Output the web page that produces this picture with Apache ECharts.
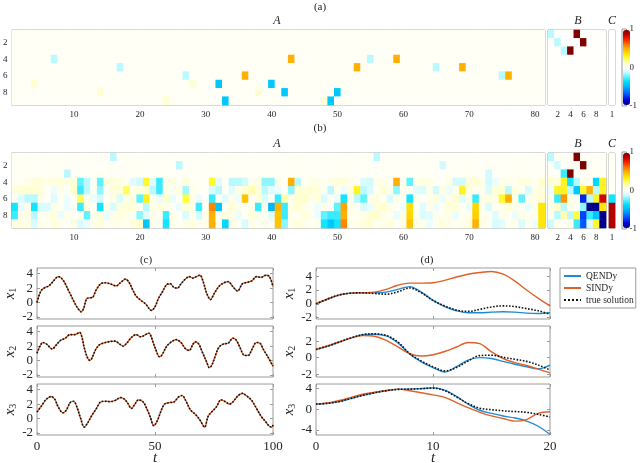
<!DOCTYPE html>
<html>
<head>
<meta charset="utf-8">
<script src="https://cdn.jsdelivr.net/npm/echarts@6/dist/echarts.min.js"></script>
<style>
html, body { margin: 0; padding: 0; background: #fff; }
#chart { width: 640px; height: 463px; }
</style>
</head>
<body>
<div id="chart"></div>
<script>
// ---------- panel (a): nearly sparse coefficients ----------
// cells as [column, row, value]; all other cells are faint
const aFaint = 0.02;
const aCellsA = [
  [7, 4, -0.15], [17, 5, -0.15], [27, 6, -0.15], [55, 4, -0.15], [65, 5, -0.15], [75, 6, -0.15],
  [4, 7, 0.1], [14, 8, 0.1], [24, 9, 0.1], [28, 7, 0.1], [38, 8, 0.1], [48, 9, 0.1],
  [32, 7, -0.45], [33, 9, -0.45], [40, 7, -0.45], [42, 8, -0.45], [50, 8, -0.45], [49, 9, -0.45],
  [43, 4, 0.5], [53, 5, 0.5], [59, 4, 0.5], [69, 5, 0.5], [36, 6, 0.5], [76, 6, 0.5]
];
const aCellsB = [[1, 1, -0.15], [2, 2, -0.15], [3, 3, -0.15], [5, 1, 1], [6, 2, 1], [4, 3, 1]];
const aCellsC = [];

// ---------- panel (b): dense coefficients, one array per row ----------
const bA1 = [.02,.03,.02,.02,.03,.02,.02,.03,.02,.02, .02,.03,.02,.02,.02,-.15,.02,.03,.02,.02, .02,.02,.03,.02,.02,.02,.02,.02,.02,.02, .02,.02,.02,.03,.02,.02,.02,.03,.02,.02, .02,.02,.03,.02,.02,.02,.02,.02,.03,.02, .02,.02,.02,.02,.02,-.15,.02,.02,.02,.02, .02,.02,.03,.02,.02,.02,.02,.02,.03,.02, .02,.02,.02,.02,.02,.02,.03,.02,.02,.02, .02];
const bA2 = [.02,.02,.03,.02,.02,.02,.03,.02,.02,.02, .03,.02,.02,.02,.03,.02,.02,.02,.02,.03, .02,.02,.02,.02,.02,-.15,.02,.02,.03,.02, .02,.03,.02,.02,.02,.02,.02,.02,.02,.03, .02,.02,.02,.03,.02,.02,.02,.03,.02,.02, .02,.03,.02,.02,.02,.02,.03,.02,.02,.02, .02,.02,.02,.02,.02,-.12,.02,.02,.02,.03, .02,.02,.03,.02,.02,.02,.02,.03,.02,.02, .02];
const bA3 = [.02,.03,.02,.02,.02,.03,.02,.02,-.15,.02, .02,.02,.02,.03,.02,.02,.02,.02,.03,.02, .02,.03,.02,.02,.02,.02,.03,.02,.02,.02, .03,.02,.02,.02,.02,.03,.02,.02,.02,.02, .02,.02,.02,.02,.03,.02,.02,.02,.02,.02, .03,.02,.02,.02,.02,.02,.02,.03,.02,.02, .02,.02,.03,.02,.02,.02,.02,.02,.02,.03, .02,.02,-.12,.02,.02,.03,.02,.02,.02,.02, .03];
const bA4 = [.02,.03,.05,.08,.08,.06,.08,.08,.06,.08, -.25,-.15,.02,-.25,.08,.08,.06,.02,-.08,-.12, .28,-.08,-.3,.05,.08,.02,.08,.03,.02,.02, .28,-.08,.02,-.15,-.15,-.12,.05,.05,-.2,-.2, .05,.03,.5,-.15,.02,.06,.05,.03,.06,.08, .08,.05,.02,-.1,-.12,.05,.05,.02,.5,.03, -.25,.05,.08,.05,.02,.02,.06,-.12,-.12,.08, .1,.05,-.12,-.05,.05,.05,.03,.08,.06,.03, .1];
const bA5 = [.08,.1,.1,.1,.08,.02,-.05,.06,.02,.12, -.3,-.15,.03,-.2,.03,.08,.1,.22,.05,.08, .1,-.15,-.3,.05,.03,.06,-.18,.05,.03,.02, -.1,-.15,.03,-.08,.05,.1,.15,.08,-.15,-.08, -.05,.02,-.2,.1,.08,.1,.08,.03,-.15,.05, -.05,.08,.3,-.15,-.1,.03,.1,.05,-.2,.05, .03,-.08,-.1,.05,-.12,.08,-.05,.05,.3,.08, .03,.05,-.1,.1,.1,-.15,.08,.03,-.1,.05, .08];
const bA6 = [.02,-.08,-.15,-.15,.05,.02,-.08,.03,-.05,.02, .22,.05,-.05,-.12,.02,.05,-.1,.05,.08,-.25, .32,.05,-.05,.12,-.05,.02,.25,.05,-.05,.02, -.3,.02,-.08,.05,-.05,.45,.02,.08,-.1,.03, -.3,.15,.05,.1,.12,.05,.08,-.1,.03,-.05, -.35,.05,-.15,-.25,.05,.08,.03,-.1,.05,.03, -.35,.05,.02,.05,.08,-.05,.05,.1,-.08,.05, -.3,.05,.08,.05,.28,.5,.05,-.25,.05,.05, .1];
const bA7 = [-.35,-.05,.05,-.35,-.1,-.1,.05,.03,-.05,.02, -.3,.08,.03,-.35,.05,-.1,.08,.1,.08,.03, -.15,.05,.08,.05,.02,-.05,.1,.05,-.3,.02, .58,-.45,.03,.1,.05,.02,.05,-.3,.05,-.5, .5,-.3,.05,.1,.05,.03,-.05,.05,.03,-.25, .52,.05,.03,-.1,-.05,.08,.12,.05,.02,-.05, .38,.03,-.08,.05,-.05,.02,.1,.08,.03,-.05, .4,.05,-.1,.03,.05,.08,.05,.03,-.05,.05, .35];
const bA8 = [-.3,.05,.05,-.15,.03,.05,.08,-.05,.05,.02, .05,-.25,.05,.08,-.05,.05,.08,.05,.03,-.2, -.08,.05,.03,-.3,.05,.03,-.1,.05,-.12,.05, .5,.03,.08,.05,-.05,.03,.08,.05,.03,-.08, .45,-.3,.05,.03,.08,.05,-.05,-.25,-.3,-.3, .5,.05,.03,.05,.1,.12,.05,.03,-.05,.05, .4,.05,-.1,-.08,.05,.03,.05,-.05,.03,.05, .42,.05,.03,-.08,.05,.03,-.05,.05,.03,.05, .35];
const bA9 = [.05,.08,.05,-.1,.05,.03,.08,.05,.03,.05, -.1,-.05,.05,.08,.03,.05,.05,.03,.08,.12, -.45,.05,.03,-.35,.05,.03,.05,.08,.03,.05, .5,.05,-.4,.05,.03,-.1,.05,.03,.05,.03, .45,-.2,.05,.08,.05,.03,.05,-.35,-.45,-.35, .58,.05,.05,.08,.1,.03,.05,.08,.03,.05, .45,.05,.05,-.05,.03,.08,.05,.03,.05,.08, .5,.05,.03,-.1,-.08,.03,.05,-.1,.05,-.05, .35];
const bB = [
  [-.15, .02, .02, .02, 1, .02, .02, .02, .02],
  [.02, -.12, .02, .02, .02, 1, .02, .02, .02],
  [.02, .02, -.3, 1, .02, .02, .02, .02, .02],
  [.1, .08, .3, -.35, -.15, .05, .02, -.4, .3],
  [-.05, .3, .3, -.15, -.45, .28, .5, -.15, .3],
  [.05, -.3, .55, .08, .02, -.8, -.15, .3, .85],
  [.05, .12, -.15, .05, .02, -.2, -1, -1, .35],
  [.05, -.15, .15, -.15, .25, -.75, -.3, -.45, -1],
  [-.12, .05, .02, .05, -.3, -.7, -.1, .28, -1]
];
const bC = [.02, .02, .02, .02, .02, -.35, .9, .9, .9];

// ---------- panel (c): trajectories over t = 0..100 ----------
const c1T = [0,1,2,3.5,5,6.5,8,9,10,11.5,13,14.5,16,17.5,18.7,19.8,21,22.3,23.5,25,27,29,31,33.5,35.5,37.5,39,40.5,42,44,46,48.5,50,51.5,53,55,56.5,58,59.5,61,63,64.5,66,67.5,69,70.5,72,73.5,75,77,79,81,83,85,87,89,91,93,95,97,98.5,100];
const c1X = [0,1.1,1.75,2.1,2.3,2.8,3.4,3.6,3.5,2.9,1.9,0.9,-0.1,-0.9,-1.3,-0.8,0.5,0.65,0.7,1.7,2.6,2.75,2.6,2.3,2.8,3.25,2.8,1.8,0.9,0.3,-0.2,-1.1,-0.6,0.6,1.4,2.5,2.6,2.1,2.0,2.6,3.3,3.6,3.4,3.6,3.8,2.8,1.2,0.4,1.2,2.2,2.7,2.9,2.2,1.6,2.6,2.8,3.0,3.6,3.5,3.8,3.6,2.2];
const c2T = [0,1,2.5,4,6.5,8,10,12,14,16,18,19,20,21.5,22.5,23.5,25,26.5,29,31,33,35,36.5,38,40,42,44,46,47.5,48.5,50,52,53,55,57,59,61,63,64.5,66,67,68.5,70,72,73,74,75.5,77,79,81,83,84.5,86,88,89.5,91,93,94.5,96,98,100];
const c2X = [1.0,1.8,2.5,2.3,1.6,2.1,2.8,3.1,3.6,3.6,3.9,3.3,1.8,0.3,0.0,0.5,1.6,2.2,2.5,2.65,2.7,2.3,2.0,2.4,3.2,3.6,3.3,3.6,3.8,3.2,1.8,0.5,0.8,2.0,2.6,2.9,2.5,1.6,1.4,2.2,2.6,2.3,1.2,-0.3,-1.0,-0.7,0.6,1.8,2.3,2.4,3.1,2.8,1.8,0.7,0.7,1.5,2.5,2.4,1.5,0.4,-0.8];
const c3T = [0,2,4,6,7.5,9,11,12.5,14,15.5,17,18.5,20,21.5,23,25,27,29,31,33,35.5,37,38.5,40,41.5,43,45,47,48,49.5,51,52.5,54,56,58,60,61.5,63,65,67,69,71,72.5,74,76,78,80,81.5,83,85,87,89,91,93,95,97,98.5,99.5,100];
const c3X = [0.9,1.8,2.7,3.05,2.7,1.6,0.8,1.2,2.2,2.4,1.5,0.0,-1.2,-0.6,0.3,1.3,2.3,2.4,2.35,2.5,2.9,2.7,2.1,1.4,2.0,2.6,2.3,1.0,0.2,-1.0,-0.3,1.0,2.0,2.2,2.3,3.0,3.2,2.5,1.2,0.6,-0.2,-1.2,0.3,0.9,1.6,2.6,2.3,2.0,2.3,3.1,3.5,3.1,2.5,1.4,0.3,-0.5,-1.1,-1.2,-0.9];

// ---------- panel (d): comparison over t = 0..20 ----------
const dT = [0,1,2,3,4,5,6,7,8,9,10,11,12,13,14,15,16,17,18,19,20];
const d1True  = [0,0.7,1.3,1.55,1.6,1.5,1.4,1.75,2.3,1.6,0.5,-0.3,-0.9,-1.1,-0.8,-0.45,-0.3,-0.4,-0.7,-1.0,-1.5];
const d1Qendy = [0,0.7,1.3,1.55,1.6,1.6,1.7,2.1,2.5,1.7,0.5,-0.4,-1.0,-1.3,-1.3,-1.2,-1.15,-1.2,-1.35,-1.4,-1.3];
const d1Sindy = [0,0.7,1.3,1.55,1.6,1.7,2.1,2.7,3.0,3.0,3.05,3.4,3.9,4.3,4.55,4.7,4.3,3.3,2.0,0.8,-0.3];
const d2True  = [1.0,1.4,1.9,2.4,2.8,2.9,2.7,1.9,0.5,-0.4,-1.1,-1.6,-1.2,-0.4,0.25,0.3,0.05,-0.2,-0.45,-0.9,-1.5];
const d2Qendy = [1.0,1.4,1.9,2.4,2.8,2.85,2.65,1.8,0.45,-0.5,-1.2,-1.75,-1.1,-0.3,0.0,-0.1,-0.45,-0.8,-1.1,-1.35,-0.9];
const d2Sindy = [1.0,1.45,1.95,2.4,2.7,2.6,2.1,1.3,0.5,0.2,0.35,0.75,1.3,1.85,1.7,0.7,-0.1,-0.6,-0.95,-1.4,-1.85];
const d3True  = [1.0,1.15,1.5,2.1,2.7,3.2,3.6,3.85,3.9,4.0,4.1,3.6,2.4,1.1,0.2,-0.1,-0.3,-0.45,-0.6,-1.0,-1.5];
const d3Qendy = [1.0,1.15,1.5,2.1,2.7,3.2,3.6,3.85,3.9,4.0,4.15,3.7,2.5,1.0,-0.2,-0.8,-1.3,-1.7,-2.3,-3.3,-4.9];
const d3Sindy = [1.0,1.2,1.7,2.3,2.9,3.3,3.65,3.9,3.6,3.2,2.8,2.3,1.3,0.3,-0.6,-1.3,-1.8,-2.3,-2.0,-0.8,-0.5];

// ---------- style ----------
const serif = '"Liberation Serif", "DejaVu Serif", serif';
const ink = '#262626';
const frame = '#9a9a9a';
// -1 .. 1 in steps of 0.125
const cmap = ['#00008a', '#0000d0', '#0040ff', '#0080ff', '#00b8ff', '#00e0ff', '#60f2ff', '#d0fbff', '#ffffff',
              '#ffffc8', '#ffff40', '#ffe000', '#ffb000', '#ff7000', '#ff2000', '#c00000', '#800000'];
const blue = '#1f8ad6', orange = '#e0602a', red = '#d95319';

const grid = [], xAxis = [], yAxis = [], series = [];
const tickStyle = { color: frame, width: 1 };
const noLine = { show: false, onZero: false };
const nums = n => Array.from({ length: n }, (_, i) => String(i + 1));
const every = k => (i, v) => Number(v) % k === 0;

function addBox(box) {
  grid.push(Object.assign({ show: true, borderColor: frame, borderWidth: 1 }, box));
  return grid.length - 1;
}

// dense table -> heatmap items
function fromRows(rows) {
  const out = [];
  rows.forEach((r, j) => r.forEach((v, i) => out.push([i, j, v])));
  return out;
}
function fromSparse(nCols, cells, faint) {
  const rows = Array.from({ length: 9 }, () => new Array(nCols).fill(faint));
  cells.forEach(([c, r, v]) => { rows[r - 1][c - 1] = v; });
  return fromRows(rows);
}

function heatPanel(box, nCols, data, xEvery, showY) {
  const g = addBox(box);
  const xi = xAxis.length, yi = yAxis.length;
  const tick = { inside: true, length: 2, alignWithLabel: true, interval: every(xEvery), lineStyle: tickStyle };
  xAxis.push({ gridIndex: g, type: 'category', data: nums(nCols), position: 'bottom',
    axisLine: noLine, splitLine: { show: false }, axisTick: tick,
    axisLabel: { interval: every(xEvery), fontSize: 9, margin: 5, fontFamily: serif, color: ink } });
  xAxis.push({ gridIndex: g, type: 'category', data: nums(nCols), position: 'top',
    axisLine: noLine, splitLine: { show: false }, axisTick: tick, axisLabel: { show: false } });
  const ytick = { inside: true, length: 2, alignWithLabel: true, interval: 0, lineStyle: tickStyle };
  yAxis.push({ gridIndex: g, type: 'category', data: nums(9), inverse: true, position: 'left',
    axisLine: noLine, splitLine: { show: false }, axisTick: ytick,
    axisLabel: { show: showY, interval: every(2), fontSize: 9, margin: 4, fontFamily: serif, color: ink } });
  yAxis.push({ gridIndex: g, type: 'category', data: nums(9), inverse: true, position: 'right',
    axisLine: noLine, splitLine: { show: false }, axisTick: ytick, axisLabel: { show: false } });
  series.push({ type: 'heatmap', xAxisIndex: xi, yAxisIndex: yi, data: data,
    emphasis: { disabled: true }, silent: true, itemStyle: { borderWidth: 0 } });
  return series.length - 1;
}

function colorbarAxis(top) {
  const g = addBox({ left: 622, top: top - 1, width: 9, height: 77 });
  xAxis.push({ gridIndex: g, type: 'value', min: 0, max: 1, show: false });
  yAxis.push({ gridIndex: g, type: 'value', min: -1, max: 1, position: 'right',
    axisLine: noLine, splitLine: { show: false }, axisTick: { show: false },
    axisLabel: { customValues: [-1, 0, 1], fontSize: 9, margin: 3, fontFamily: serif, color: ink } });
}

// x tick labels and the t label live on a thin helper grid under the lowest plot
function timeAxis(box, xMax, xTicks) {
  const g = grid.length;
  grid.push({ show: false, left: box.left, width: box.width, top: box.top + box.height - 1, height: 1 });
  xAxis.push({ gridIndex: g, type: 'value', min: 0, max: xMax, position: 'bottom',
    axisLine: noLine, splitLine: { show: false }, axisTick: { show: false },
    axisLabel: { customValues: xTicks, fontSize: 13, margin: 6, fontFamily: serif, color: ink },
    name: 't', nameLocation: 'middle', nameGap: 16, nameMoveOverlap: false,
    nameTextStyle: { fontStyle: 'italic', fontSize: 15, fontFamily: serif, color: ink, verticalAlign: 'top' } });
  yAxis.push({ gridIndex: g, type: 'value', min: 0, max: 1, show: false });
}

function linePanel(box, xMax, xTicks, yMin, yMax, yTicks, sub, nameGap, lines) {
  const g = addBox(box);
  const xi = xAxis.length, yi = yAxis.length;
  const xt = { inside: true, length: 3, customValues: xTicks, lineStyle: tickStyle };
  const yt = { inside: true, length: 3, customValues: yTicks, lineStyle: tickStyle };
  xAxis.push({ gridIndex: g, type: 'value', min: 0, max: xMax, position: 'bottom',
    axisLine: noLine, splitLine: { show: false }, axisTick: xt, axisLabel: { show: false } });
  xAxis.push({ gridIndex: g, type: 'value', min: 0, max: xMax, position: 'top',
    axisLine: noLine, splitLine: { show: false }, axisTick: xt, axisLabel: { show: false } });
  yAxis.push({ gridIndex: g, type: 'value', min: yMin, max: yMax, position: 'left',
    axisLine: noLine, splitLine: { show: false }, axisTick: yt,
    axisLabel: { customValues: yTicks, fontSize: 13, margin: 4, fontFamily: serif, color: ink },
    name: '{i|x}{s|' + sub + '}', nameLocation: 'middle', nameGap: nameGap, nameRotate: 90,
    nameTextStyle: { color: ink, rich: {
      i: { fontStyle: 'italic', fontSize: 15, fontFamily: serif, color: ink, lineHeight: 16 },
      s: { fontSize: 10, fontFamily: serif, color: ink, verticalAlign: 'bottom', lineHeight: 10 } } } });
  yAxis.push({ gridIndex: g, type: 'value', min: yMin, max: yMax, position: 'right',
    axisLine: noLine, splitLine: { show: false }, axisTick: yt, axisLabel: { show: false } });
  lines.forEach(l => series.push({
    type: 'line', name: l.name, xAxisIndex: xi, yAxisIndex: yi,
    data: l.t.map((t, i) => [t, l.v[i]]), symbol: 'none', showSymbol: false, smooth: 0.35,
    silent: true, lineStyle: { color: l.color, width: l.width || 1.4, type: l.type || 'solid' },
    itemStyle: { color: l.color }, z: l.z || 2 }));
}

// ---------- build ----------
const rowA = [
  heatPanel({ left: 8, top: 30, width: 537, height: 75 }, 81, fromSparse(81, aCellsA, aFaint), 10, true),
  heatPanel({ left: 548, top: 30, width: 58, height: 75 }, 9, fromSparse(9, aCellsB, 0.01), 2, false),
  heatPanel({ left: 609, top: 30, width: 6, height: 75 }, 1, fromSparse(1, aCellsC, 0), 1, false)
];
const rowB = [
  heatPanel({ left: 8, top: 153, width: 537, height: 75 }, 81, fromRows([bA1, bA2, bA3, bA4, bA5, bA6, bA7, bA8, bA9]), 10, true),
  heatPanel({ left: 548, top: 153, width: 58, height: 75 }, 9, fromRows(bB), 2, false),
  heatPanel({ left: 609, top: 153, width: 6, height: 75 }, 1, fromRows(bC.map(v => [v])), 1, false)
];
colorbarAxis(30);
colorbarAxis(153);

const cTicks = [0, 50, 100], cY = [-2, 0, 2, 4];
const cBoxes = [268, 326, 384];
[[c1T, c1X], [c2T, c2X], [c3T, c3X]].forEach(([t, v], k) => {
  linePanel({ left: 37, top: cBoxes[k], width: 236, height: 51 }, 100, cTicks, -2.3, 4.8, cY, k + 1, 17, [
    { name: 'model', t: t, v: v, color: red, width: 1.2, z: 2 },
    { name: 'truth', t: t, v: v, color: '#111', type: 'dotted', width: 1.6, z: 3 }
  ]);
});
timeAxis({ left: 37, top: cBoxes[2], width: 236, height: 51 }, 100, cTicks);

const dTicks = [0, 10, 20];
const dPanels = [
  [-2.2, 5.2, [-2, 0, 2, 4], d1True, d1Qendy, d1Sindy],
  [-2.35, 3.85, [-2, 0, 2], d2True, d2Qendy, d2Sindy],
  [-5, 4.9, [-4, 0, 4], d3True, d3Qendy, d3Sindy]
];
dPanels.forEach(([lo, hi, ticks, tr, qe, si], k) => {
  linePanel({ left: 316, top: cBoxes[k], width: 234, height: 51 }, 20, dTicks, lo, hi, ticks, k + 1, 15, [
    { name: 'QENDy', t: dT, v: qe, color: blue, z: 2 },
    { name: 'SINDy', t: dT, v: si, color: orange, z: 2 },
    { name: 'true solution', t: dT, v: tr, color: '#111', type: 'dotted', width: 1.6, z: 3 }
  ]);
});
timeAxis({ left: 316, top: cBoxes[2], width: 234, height: 51 }, 20, dTicks);

function label(text, x, y, size, italic) {
  return { type: 'text', x: x, y: y, silent: true, style: {
    text: text, fill: ink, font: (italic ? 'italic ' : '') + size + 'px ' + serif,
    textAlign: 'center', textVerticalAlign: 'middle', align: 'center', verticalAlign: 'middle' } };
}

const chart = echarts.init(document.getElementById('chart'));
chart.setOption({
  animation: false,
  backgroundColor: '#fff',
  grid: grid,
  xAxis: xAxis,
  yAxis: yAxis,
  visualMap: [rowA, rowB].map((idx, k) => ({
    type: 'continuous', min: -1, max: 1, seriesIndex: idx, calculable: false, hoverLink: false,
    left: 623, top: k === 0 ? 30 : 153, itemWidth: 7, itemHeight: 75, padding: 0,
    inRange: { color: cmap }
  })),
  legend: {
    data: ['QENDy', 'SINDy', 'true solution'], orient: 'vertical', left: 560, top: 268,
    itemWidth: 17, itemHeight: 8, itemGap: 2, padding: [3, 2, 3, 3],
    borderColor: frame, borderWidth: 1, backgroundColor: '#fff', selectedMode: false,
    itemStyle: { opacity: 0 },
    textStyle: { fontFamily: serif, fontSize: 9.5, color: ink }
  },
  graphic: [
    label('(a)', 320, 7, 11), label('A', 277, 21, 12, true), label('B', 578, 21, 12, true), label('C', 612, 21, 12, true),
    label('(b)', 320, 128, 11), label('A', 277, 144, 12, true), label('B', 578, 144, 12, true), label('C', 612, 144, 12, true),
    label('(c)', 146, 260, 11), label('(d)', 427, 260, 11)
  ],
  series: series
});
</script>
</body>
</html>
